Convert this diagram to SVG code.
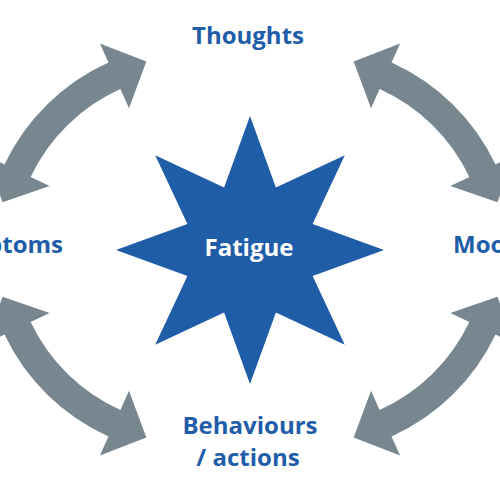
<svg xmlns="http://www.w3.org/2000/svg" width="500" height="500" viewBox="0 0 500 500">
<style>
.lbl{font-family:"Open Sans","Noto Sans","Liberation Sans",sans-serif;font-weight:700;font-size:24px;fill:#1f5da9;text-anchor:middle}
.arr{fill:#77868f}
</style>
<defs>
<path id="arc" class="arr" d="M146.35,61.44 L128.99,108.17 L120.38,89.02 A182,182 0 0 0 30.65,176.92 L49.62,185.93 L2.54,202.31 L-14.5,155.47 L4.47,164.48 A211,211 0 0 1 108.49,62.57 L99.88,43.42 Z"/>
</defs>
<rect width="500" height="500" fill="#ffffff"/>
<g id="connectors">
<use href="#arc"/>
<use href="#arc" transform="translate(500,0) scale(-1,1)"/>
<use href="#arc" transform="translate(0,499) scale(1,-1)"/>
<use href="#arc" transform="translate(500,499) scale(-1,-1)"/>
</g>
<g id="fatigue">
<polygon fill="#1f5da9" points="250,116 275.9,187.4 344.8,155.2 312.6,224.1 384,250 312.6,275.9 344.8,344.8 275.9,312.6 250,384 224.1,312.6 155.2,344.8 187.4,275.9 116,250 187.4,224.1 155.2,155.2 224.1,187.4"/>
<text class="lbl" x="249" y="256" style="fill:#ffffff">Fatigue</text>
</g>
<g id="thoughts"><text class="lbl" x="248" y="44">Thoughts</text></g>
<g id="mood"><text class="lbl" x="453" y="253" style="text-anchor:start">Mood</text></g>
<g id="behaviours"><text class="lbl" x="250" y="434">Behaviours</text><text class="lbl" x="248" y="466">/ actions</text></g>
<g id="symptoms"><text class="lbl" x="63" y="253" style="text-anchor:end">Symptoms</text></g>
</svg>
